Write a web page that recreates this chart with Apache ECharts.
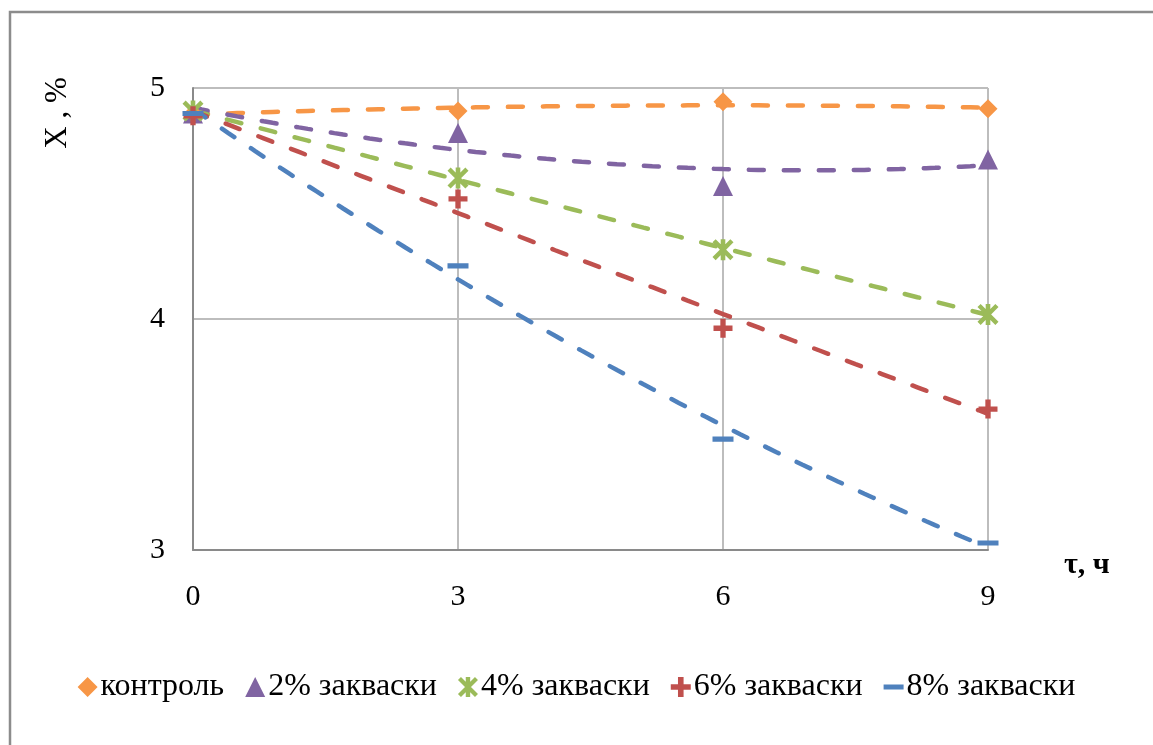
<!DOCTYPE html>
<html>
<head>
<meta charset="utf-8">
<script src="https://cdn.jsdelivr.net/npm/echarts@6/dist/echarts.min.js"></script>
<style>
  html, body { margin: 0; padding: 0; background: #ffffff; }
  #chart { width: 1153px; height: 745px; }
</style>
</head>
<body>
<div id="chart"></div>
<script>
// Fermentation time, h
const hours = [0, 3, 6, 9];
const xTicks = [0, 3, 6, 9];
const yTicks = [3, 4, 5];

// X, % for each starter dose
const control = [4.89, 4.90, 4.94, 4.91];
const starter2 = [4.89, 4.805, 4.576, 4.69];
const starter4 = [4.90, 4.61, 4.30, 4.02];
const starter6 = [4.88, 4.52, 3.96, 3.61];
const starter8 = [4.89, 4.23, 3.48, 3.03];

const seriesNames = ['контроль', '2% закваски', '4% закваски', '6% закваски', '8% закваски'];
const seriesValues = [control, starter2, starter4, starter6, starter8];
const colors = ['#F79646', '#8064A2', '#9BBB59', '#C0504D', '#4F81BD'];

// Marker shapes (100x100 boxes)
const STAR = 'path://M15 0 L100 85 L85 100 L0 15 Z M85 0 L100 15 L15 100 L0 85 Z M39 0 L61 0 L61 100 L39 100 Z';
const PLUS = 'path://M0 0 L0 0 Z M36 0 L64 0 L64 36 L100 36 L100 64 L64 64 L64 100 L36 100 L36 64 L0 64 L0 36 L36 36 Z M100 100 L100 100 Z';
const DASH = 'path://M0 0 L0 0 Z M0 38 L100 38 L100 62 L0 62 Z M100 100 L100 100 Z';
const symbols = ['diamond', 'triangle', STAR, PLUS, DASH];
const symbolSizes = [19, 20, 21, 19, 21];

// Second-order least-squares trend of a series
function quadFit(xs, ys) {
  let s = [0, 0, 0, 0, 0], t = [0, 0, 0];
  for (let i = 0; i < xs.length; i++) {
    let p = 1;
    for (let k = 0; k < 5; k++) { s[k] += p; if (k < 3) t[k] += p * ys[i]; p *= xs[i]; }
  }
  const A = [[s[0], s[1], s[2], t[0]], [s[1], s[2], s[3], t[1]], [s[2], s[3], s[4], t[2]]];
  for (let c = 0; c < 3; c++) {
    for (let r = c + 1; r < 3; r++) {
      const f = A[r][c] / A[c][c];
      for (let k = c; k < 4; k++) A[r][k] -= f * A[c][k];
    }
  }
  const b = [0, 0, 0];
  for (let r = 2; r >= 0; r--) {
    let v = A[r][3];
    for (let k = r + 1; k < 3; k++) v -= A[r][k] * b[k];
    b[r] = v / A[r][r];
  }
  return x => b[0] + b[1] * x + b[2] * x * x;
}

function trendPoints(ys) {
  const f = quadFit(hours, ys);
  const pts = [];
  const x0 = hours[0], x1 = hours[hours.length - 1];
  const n = 90;
  for (let i = 0; i <= n; i++) {
    const x = x0 + (x1 - x0) * i / n;
    pts.push([x, f(x)]);
  }
  return pts;
}

const FONT = '"Liberation Serif", "Times New Roman", serif';

const series = [];
seriesNames.forEach((name, i) => {
  series.push({
    name: name + ' trend',
    type: 'line',
    data: trendPoints(seriesValues[i]),
    showSymbol: false,
    symbol: 'none',
    lineStyle: { color: colors[i], width: 4.5, type: [15, 20], cap: 'round' },
    z: 2,
    silent: true
  });
});
seriesNames.forEach((name, i) => {
  series.push({
    name: name,
    type: 'scatter',
    data: hours.map((h, j) => [h, seriesValues[i][j]]),
    symbol: symbols[i],
    symbolSize: symbolSizes[i],
    itemStyle: { color: colors[i], opacity: 1 },
    z: 3 + i * 0.01,
    silent: true
  });
});

const chart = echarts.init(document.getElementById('chart'), null, { renderer: 'canvas' });
chart.setOption({
  animation: false,
  backgroundColor: '#ffffff',
  textStyle: { fontFamily: FONT },
  grid: { left: 193, right: 165, top: 88, bottom: 195, containLabel: false },
  xAxis: {
    type: 'value',
    min: xTicks[0],
    max: xTicks[xTicks.length - 1],
    interval: 3,
    name: 'τ, ч',
    nameLocation: 'end',
    nameGap: 76,
    nameTextStyle: { fontFamily: FONT, fontSize: 30, fontWeight: 'bold', color: '#000', verticalAlign: 'top', lineHeight: 30 },
    axisLine: { show: true, lineStyle: { color: '#8a8a8a', width: 2 } },
    axisTick: { show: false },
    axisLabel: { fontFamily: FONT, fontSize: 30, color: '#000', margin: 32 },
    splitLine: { show: true, lineStyle: { color: '#bdbdbd', width: 2 } }
  },
  yAxis: {
    type: 'value',
    min: yTicks[0],
    max: yTicks[yTicks.length - 1],
    interval: 1,
    axisLine: { show: true, lineStyle: { color: '#8a8a8a', width: 2 } },
    axisTick: { show: false },
    axisLabel: { fontFamily: FONT, fontSize: 30, color: '#000', margin: 28, padding: [5, 0, 0, 0] },
    splitLine: { show: true, lineStyle: { color: '#bdbdbd', width: 2 } }
  },
  legend: {
    top: 666,
    left: 'center',
    itemWidth: 20,
    itemHeight: 20,
    itemGap: 21,
    data: seriesNames.map((n, i) => ({ name: n, icon: symbols[i] })),
    textStyle: { fontFamily: FONT, fontSize: 32, color: '#000', padding: [0, 0, 0, -2] },
    selectedMode: false
  },
  graphic: [
    {
      type: 'rect',
      shape: { x: 10, y: 12, width: 1300, height: 900 },
      style: { fill: 'none', stroke: '#8c8c8c', lineWidth: 2.5 },
      silent: true,
      z: 0
    },
    {
      type: 'text',
      x: 58,
      y: 113,
      rotation: Math.PI / 2,
      style: { text: 'X , %', font: '31px ' + FONT, fill: '#000', align: 'center', verticalAlign: 'middle' },
      silent: true
    }
  ],
  series: series
});
</script>
</body>
</html>
